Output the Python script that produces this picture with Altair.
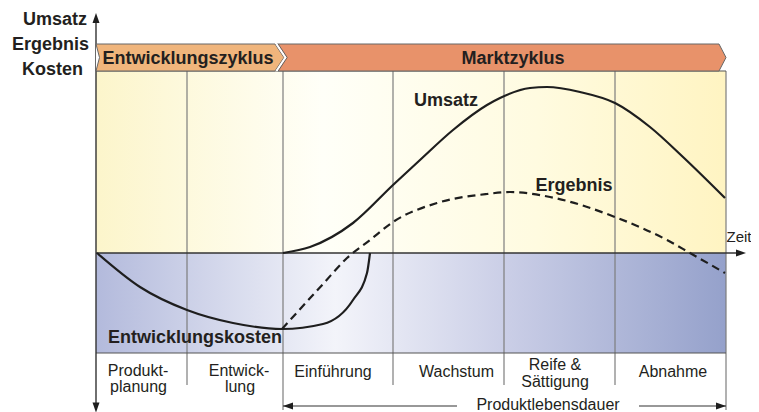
import altair as alt
import pandas as pd

# ---------------- data ----------------
# time axis: phase boundaries (time units), value axis: Umsatz / Ergebnis / Kosten (relative units)
phase_bounds = [0.0, 9.1, 18.7, 29.7, 40.8, 51.9, 63.0]
divider_bottom = [-132, -157, -132, -132, -132, -157]   # lower end of each divider (after first)
plot_top, plot_bottom = 182, -100

umsatz_t = [18.7, 21.4, 25.7, 29.7, 32.4, 35.7, 39.1, 40.4, 43.4, 45.1, 48.4, 51.9, 55.4, 58.7, 62.9]
umsatz_v = [0, 6, 30, 68, 93, 123, 148, 155, 165, 166, 161, 150, 126, 96, 55]

ergebnis_t = [18.6, 22.7, 25.1, 27.4, 29.7, 34.1, 39.1, 41.4, 45.4, 51.9, 57.1, 59.4, 62.9]
ergebnis_v = [-76, -31, -5, 13, 31, 50, 59, 61, 56, 36, 13, 0, -20]

kosten_t = [0.1, 4.4, 9.1, 13.7, 18.6, 22.7, 25.7, 27.1, 27.4]
kosten_v = [0, -34, -57, -70, -76, -71, -47, -20, 0]

# header bands (chevrons)
header_top, header_bot, header_mid = 209, 182, 195.5
markt_t = [18.1, 62.3, 63.0]
entw_t = [0.0, 17.9, 18.8]

# labels
axis_labels = ["Umsatz", "Ergebnis", "Kosten"]
axis_label_t = [-0.9, -0.7, -1.3]
axis_label_v = [228, 203, 178]

header_labels = ["Entwicklungszyklus", "Marktzyklus"]
header_label_t = [9.2, 41.7]
header_label_v = [189, 189]

curve_labels = ["Umsatz", "Ergebnis"]
curve_label_t = [35.0, 47.8]
curve_label_v = [147, 62]

phase_lines = ["Produkt-", "planung", "Entwick-", "lung", "Einführung", "Wachstum",
               "Reife &", "Sättigung", "Abnahme"]
phase_line_t = [4.2, 4.25, 14.3, 14.4, 23.7, 36.05, 45.9, 45.9, 57.7]
phase_line_v = [-123, -139, -123, -139, -124, -124, -117, -134, -124]

lifetime_v = -153

# ---------------- scales ----------------
xs = alt.Scale(domain=[-8.8, 65.5], nice=False, zero=False)
ys = alt.Scale(domain=[-159, 245], nice=False, zero=False)


def X(f):
    return alt.X(f, type="quantitative", scale=xs, axis=None)


def X2(f):
    return alt.X2(f)


def Y(f):
    return alt.Y(f, type="quantitative", scale=ys, axis=None)


def Y2(f):
    return alt.Y2(f)


FONT = "Liberation Sans"
TXT = "#231f20"

# ---------------- backgrounds ----------------
bg_up = pd.DataFrame({"t1": [phase_bounds[0]], "t2": [phase_bounds[-1]], "v1": [0], "v2": [plot_top]})
bg_dn = pd.DataFrame({"t1": [phase_bounds[0]], "t2": [phase_bounds[-1]], "v1": [plot_bottom], "v2": [0]})

yellow_grad = {"gradient": "linear", "x1": 0, "y1": 0, "x2": 1, "y2": 0,
               "stops": [{"offset": 0, "color": "#fcf5cb"},
                         {"offset": 0.36, "color": "#fffff8"},
                         {"offset": 0.7, "color": "#fffbe0"},
                         {"offset": 1, "color": "#fff4c2"}]}
blue_grad = {"gradient": "linear", "x1": 0, "y1": 0, "x2": 1, "y2": 0,
             "stops": [{"offset": 0, "color": "#b3badc"},
                       {"offset": 0.38, "color": "#f3f4fa"},
                       {"offset": 0.66, "color": "#c9cde6"},
                       {"offset": 1, "color": "#95a1cb"}]}

l_bg_up = alt.Chart(bg_up).mark_rect(fill=yellow_grad).encode(
    x=X("t1"), x2=X2("t2"), y=Y("v1"), y2=Y2("v2"))
l_bg_dn = alt.Chart(bg_dn).mark_rect(fill=blue_grad).encode(
    x=X("t1"), x2=X2("t2"), y=Y("v1"), y2=Y2("v2"))

# ---------------- grid / frame ----------------
div_df = pd.DataFrame({"t": phase_bounds[1:], "top": [plot_top] * 6, "bot": divider_bottom})
l_div = alt.Chart(div_df).mark_rule(color="#7d7d7d", strokeWidth=1.2).encode(
    x=X("t"), y=Y("top"), y2=Y2("bot"))

hline_df = pd.DataFrame({"v": [plot_top, plot_bottom], "t1": [0, 0], "t2": [63.0, 63.0]})
l_hline = alt.Chart(hline_df).mark_rule(color="#555555", strokeWidth=1.2).encode(
    x=X("t1"), x2=X2("t2"), y=Y("v"))

zero_df = pd.DataFrame({"v": [0], "t1": [0], "t2": [64.2]})
l_zero = alt.Chart(zero_df).mark_rule(color="#333333", strokeWidth=1.4).encode(
    x=X("t1"), x2=X2("t2"), y=Y("v"))

axis_df = pd.DataFrame({"t": [0], "top": [236], "bot": [-155]})
l_axis = alt.Chart(axis_df).mark_rule(color="#333333", strokeWidth=1.4).encode(
    x=X("t"), y=Y("top"), y2=Y2("bot"))

pl_df = pd.DataFrame({"v": [lifetime_v, lifetime_v], "t1": [18.7, 54.3], "t2": [36.1, 63.0]})
l_pl = alt.Chart(pl_df).mark_rule(color="#333333", strokeWidth=1.2).encode(
    x=X("t1"), x2=X2("t2"), y=Y("v"))

# ---------------- header chevrons ----------------
markt_df = pd.DataFrame({"t": markt_t, "top": [header_top, header_top, header_mid],
                         "bot": [header_bot, header_bot, header_mid]})
entw_df = pd.DataFrame({"t": entw_t, "top": [header_top, header_top, header_mid],
                        "bot": [header_bot, header_bot, header_mid]})
l_markt = alt.Chart(markt_df).mark_area(color="#e8926a", stroke="#666666", strokeWidth=1,
                                        interpolate="linear").encode(
    x=X("t"), y=Y("top"), y2=Y2("bot"))
l_entw = alt.Chart(entw_df).mark_area(color="#f0b57c", stroke="#666666", strokeWidth=1,
                                      interpolate="linear").encode(
    x=X("t"), y=Y("top"), y2=Y2("bot"))

notch_df = pd.DataFrame({"t": [0.0, 0.35], "top": [header_top, header_mid], "bot": [header_bot, header_mid]})
l_notch = alt.Chart(notch_df).mark_area(color="white").encode(x=X("t"), y=Y("top"), y2=Y2("bot"))
notch_line_df = pd.DataFrame({"i": [0, 1, 2], "t": [0.0, 0.35, 0.0], "v": [header_top, header_mid, header_bot]})
l_notch_line = alt.Chart(notch_line_df).mark_line(color="#666666", strokeWidth=1).encode(
    x=X("t"), y=Y("v"), order="i:Q")

gap_df = pd.DataFrame({"i": [0, 1, 2], "t": [18.05, 18.95, 18.05], "v": [header_top, header_mid, header_bot]})
l_gap = alt.Chart(gap_df).mark_line(color="white", strokeWidth=2.2).encode(
    x=X("t"), y=Y("v"), order="i:Q")
gap2_df = pd.DataFrame({"i": [0, 1, 2], "t": [18.22, 19.12, 18.22], "v": [header_top, header_mid, header_bot]})
l_gap2 = alt.Chart(gap2_df).mark_line(color="#666666", strokeWidth=1).encode(
    x=X("t"), y=Y("v"), order="i:Q")

# ---------------- curves ----------------
um_df = pd.DataFrame({"t": umsatz_t, "v": umsatz_v})
er_df = pd.DataFrame({"t": ergebnis_t, "v": ergebnis_v})
ko_df = pd.DataFrame({"t": kosten_t, "v": kosten_v})

l_um = alt.Chart(um_df).mark_line(color="#1e1e1e", strokeWidth=2.2, interpolate="monotone").encode(
    x=X("t"), y=Y("v"))
l_er = alt.Chart(er_df).mark_line(color="#1e1e1e", strokeWidth=2.2, interpolate="monotone",
                                  strokeDash=[8, 5]).encode(x=X("t"), y=Y("v"))
l_ko = alt.Chart(ko_df).mark_line(color="#1e1e1e", strokeWidth=2.2, interpolate="monotone").encode(
    x=X("t"), y=Y("v"))

# ---------------- arrow heads ----------------
arrow_df = pd.DataFrame({
    "t": [0.0, 0.0, 64.5, 19.2, 62.5],
    "v": [235, -154.5, 0, lifetime_v, lifetime_v],
    "shape": ["M0,-1L0.7,1L-0.7,1Z", "M0,1L0.7,-1L-0.7,-1Z", "M1,0L-1,-0.7L-1,0.7Z",
              "M-1,0L1,-0.7L1,0.7Z", "M1,0L-1,-0.7L-1,0.7Z"],
})
l_arrows = alt.Chart(arrow_df).mark_point(filled=True, opacity=1, color="#1e1e1e", strokeWidth=0).encode(
    x=X("t"), y=Y("v"), shape=alt.Shape("shape:N", scale=None), size=alt.value(100))

# ---------------- texts ----------------
def text_layer(labels, ts, vs, align, size, weight):
    df = pd.DataFrame({"label": labels, "t": ts, "v": vs})
    return alt.Chart(df).mark_text(font=FONT, fontSize=size, fontWeight=weight, align=align,
                                   baseline="alphabetic", color=TXT).encode(
        x=X("t"), y=Y("v"), text="label:N")


l_axis_txt = text_layer(axis_labels, axis_label_t, axis_label_v, "right", 18, "bold")
l_head_txt = text_layer(header_labels, header_label_t, header_label_v, "center", 18, "bold")
l_curve_txt = text_layer(curve_labels, curve_label_t, curve_label_v, "center", 18, "bold")
l_kost_txt = text_layer(["Entwicklungskosten"], [1.2], [-90], "left", 18, "bold")
l_phase_txt = text_layer(phase_lines, phase_line_t, phase_line_v, "center", 16, "normal")
l_zeit_txt = text_layer(["Zeit"], [63.05], [11], "left", 15, "normal")
l_pl_txt = text_layer(["Produktlebensdauer"], [45.2], [-156.5], "center", 16, "normal")

chart = alt.layer(
    l_bg_up, l_bg_dn, l_div, l_hline, l_zero, l_axis, l_pl,
    l_ko, l_er, l_um,
    l_markt, l_entw, l_notch, l_notch_line, l_gap, l_gap2,
    l_arrows,
    l_axis_txt, l_head_txt, l_curve_txt, l_kost_txt, l_phase_txt, l_zeit_txt, l_pl_txt,
).properties(
    width=743, height=404, padding=0, autosize="none", background="white"
).configure_view(stroke=None)

chart.save("out.html", embed_options={"renderer": "svg", "actions": False})
